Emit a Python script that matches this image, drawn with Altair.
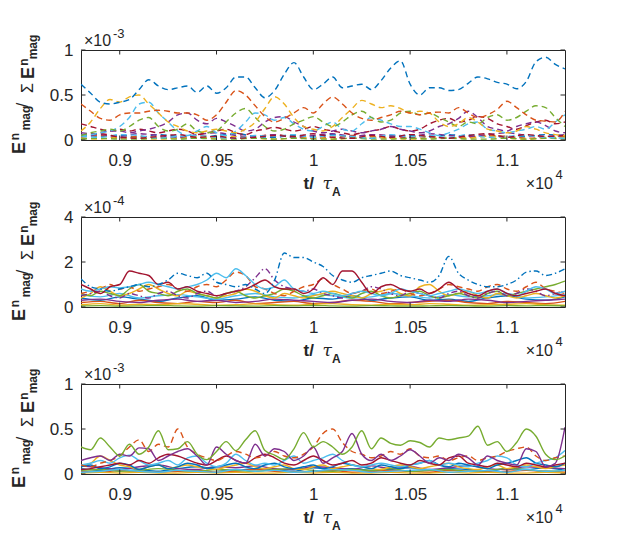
import altair as alt
import pandas as pd

# ---------------- data ----------------
T_MAIN = list(range(8800, 11301, 50))    # t grid for the main curves
T_SMALL = list(range(8800, 11301, 100))  # t grid for the near-zero curves
X_TICKS = [9000, 9500, 10000, 10500, 11000]

BLUE, ORANGE, YELLOW, PURPLE, GREEN, LBLUE, DRED = (
    "#0072BD", "#D95319", "#EDB120", "#7E2F8E", "#77AC30", "#4DBEEE", "#A2142F")
AX = "#262626"
DASH = [6, 4]
DASHDOT = [6, 3, 1.5, 3]
SOLID = None

# panel 1 (x 1e-3)
P1_BLUE = [0.62,0.52,0.42,0.40,0.42,0.45,0.56,0.67,0.60,0.56,
           0.58,0.60,0.53,0.60,0.52,0.58,0.70,0.70,0.58,0.47,
           0.55,0.73,0.86,0.70,0.56,0.62,0.70,0.58,0.60,0.62,
           0.56,0.66,0.80,0.88,0.62,0.50,0.58,0.58,0.55,0.56,
           0.63,0.70,0.68,0.64,0.62,0.57,0.65,0.87,0.92,0.84,0.79]
P1_ORANGE = [0.40,0.32,0.24,0.22,0.28,0.30,0.30,0.32,0.33,0.32,
             0.30,0.30,0.28,0.22,0.28,0.42,0.55,0.50,0.38,0.26,
             0.20,0.24,0.30,0.36,0.30,0.40,0.48,0.40,0.30,0.24,
             0.22,0.25,0.28,0.32,0.30,0.28,0.30,0.31,0.30,0.36,
             0.30,0.25,0.28,0.34,0.43,0.36,0.28,0.22,0.21,0.20,0.32]
P1_YELLOW = [0.10,0.20,0.35,0.45,0.42,0.48,0.50,0.40,0.30,0.20,
             0.15,0.10,0.08,0.10,0.12,0.10,0.08,0.12,0.20,0.35,
             0.48,0.40,0.25,0.15,0.12,0.10,0.15,0.25,0.35,0.44,
             0.40,0.36,0.38,0.35,0.30,0.32,0.30,0.20,0.15,0.18,
             0.25,0.20,0.12,0.10,0.08,0.10,0.15,0.12,0.08,0.06,0.05]
P1_GREEN = [0.05,0.08,0.10,0.12,0.10,0.15,0.22,0.25,0.15,0.10,
            0.12,0.18,0.10,0.08,0.10,0.20,0.30,0.35,0.25,0.15,
            0.10,0.12,0.18,0.22,0.26,0.20,0.15,0.20,0.28,0.32,
            0.25,0.20,0.22,0.30,0.32,0.28,0.30,0.25,0.20,0.15,
            0.20,0.18,0.25,0.28,0.22,0.25,0.32,0.38,0.36,0.25,0.15]
P1_LBLUE = [0.05,0.06,0.08,0.10,0.15,0.25,0.40,0.42,0.30,0.20,
            0.10,0.05,0.10,0.15,0.08,0.05,0.10,0.20,0.30,0.28,
            0.22,0.25,0.18,0.12,0.10,0.15,0.20,0.12,0.10,0.18,
            0.25,0.22,0.18,0.15,0.15,0.12,0.08,0.05,0.08,0.12,
            0.18,0.20,0.12,0.10,0.08,0.10,0.12,0.15,0.12,0.20,0.28]
P1_PURPLE = [0.06,0.05,0.08,0.10,0.10,0.08,0.10,0.12,0.15,0.20,
             0.28,0.30,0.22,0.18,0.24,0.20,0.15,0.10,0.12,0.20,
             0.25,0.26,0.20,0.15,0.10,0.08,0.10,0.12,0.10,0.08,
             0.10,0.12,0.15,0.12,0.10,0.08,0.10,0.15,0.18,0.24,
             0.32,0.25,0.15,0.12,0.10,0.15,0.18,0.20,0.16,0.10,0.08]
P1_DRED = [0.18,0.15,0.12,0.10,0.12,0.10,0.12,0.10,0.08,0.10,
           0.12,0.10,0.06,0.08,0.10,0.12,0.08,0.06,0.10,0.12,
           0.14,0.12,0.10,0.12,0.15,0.12,0.10,0.08,0.06,0.08,
           0.10,0.12,0.15,0.12,0.10,0.12,0.18,0.22,0.24,0.20,
           0.22,0.26,0.24,0.18,0.15,0.12,0.16,0.20,0.22,0.18,0.20]
P1_SMALL = [
    [0.06,0.04,0.05,0.03,0.06,0.04,0.02,0.05,0.07,0.04,0.03,0.05,0.04,0.06,0.03,0.02,0.04,0.05,0.03,0.06,0.04,0.05,0.03,0.04,0.06,0.05],
    [0.03,0.05,0.02,0.04,0.03,0.02,0.05,0.03,0.02,0.04,0.06,0.03,0.02,0.03,0.05,0.04,0.02,0.03,0.04,0.02,0.03,0.05,0.04,0.02,0.03,0.04],
    [0.02,0.01,0.03,0.02,0.01,0.02,0.03,0.02,0.04,0.02,0.01,0.02,0.03,0.01,0.02,0.03,0.02,0.01,0.02,0.03,0.02,0.04,0.02,0.01,0.02,0.03],
    [0.08,0.06,0.04,0.07,0.05,0.03,0.06,0.08,0.05,0.04,0.06,0.03,0.05,0.07,0.04,0.06,0.05,0.03,0.07,0.05,0.04,0.06,0.08,0.05,0.04,0.06],
    [0.01,0.02,0.01,0.01,0.02,0.01,0.02,0.01,0.01,0.02,0.01,0.02,0.01,0.01,0.02,0.01,0.01,0.02,0.01,0.02,0.01,0.01,0.02,0.01,0.02,0.01],
    [0.04,0.03,0.06,0.05,0.02,0.04,0.05,0.03,0.02,0.05,0.04,0.06,0.03,0.05,0.04,0.02,0.06,0.04,0.05,0.03,0.06,0.03,0.04,0.05,0.03,0.02],
    [0.05,0.07,0.03,0.02,0.04,0.06,0.03,0.04,0.02,0.03,0.05,0.04,0.07,0.03,0.02,0.05,0.03,0.06,0.04,0.02,0.05,0.07,0.03,0.06,0.04,0.05],
]

# panel 2 (x 1e-4)
P2_BLUE = [1.25,0.90,0.80,0.70,0.80,0.90,1.00,0.90,1.00,1.20,
           1.50,1.40,1.30,1.50,1.10,1.00,0.90,1.00,0.80,0.60,
           1.20,2.40,2.20,2.20,2.00,1.80,1.40,1.20,1.10,1.30,
           1.40,1.50,1.60,1.40,1.30,1.20,1.10,1.40,2.25,1.50,
           1.20,1.00,0.90,0.90,1.00,1.20,1.55,1.60,1.40,1.50,1.70]
P2_LBLUE = [0.80,0.70,0.80,0.90,0.85,0.90,1.00,1.10,1.00,0.90,
            0.80,0.90,1.00,1.20,1.50,1.30,1.70,1.40,1.00,0.80,
            0.90,1.20,0.80,0.70,0.60,0.70,0.60,0.50,0.60,0.70,
            0.60,0.50,0.60,0.80,0.70,0.60,0.50,0.60,0.70,0.80,
            0.70,0.60,0.70,0.80,0.60,0.50,0.70,0.90,0.80,0.60,0.70]
P2_DRED = [1.00,0.80,0.60,0.90,1.00,1.60,1.50,1.40,1.00,1.10,
           0.80,0.90,0.70,0.60,0.50,0.60,0.70,0.80,1.00,1.20,
           0.90,0.80,0.80,0.60,0.80,1.30,1.00,1.60,1.60,1.10,
           0.60,0.90,1.00,0.80,0.70,0.80,0.60,0.80,1.10,0.80,
           0.60,0.50,0.70,0.80,0.60,0.50,0.60,0.70,0.80,0.60,0.50]
P2_ORANGE = [0.60,0.70,0.80,1.00,0.80,0.90,0.70,0.80,0.90,1.00,
             0.80,0.70,0.90,1.00,0.90,1.20,1.55,1.40,0.90,0.80,
             0.60,0.50,0.70,0.90,1.00,1.25,1.00,0.80,0.60,0.70,
             0.80,0.60,0.70,0.80,0.60,0.50,0.60,0.80,1.00,0.90,
             0.80,0.70,0.90,1.00,0.80,0.70,0.90,1.10,0.80,0.70,0.60]
P2_PURPLE = [0.50,0.60,0.70,0.50,0.40,0.60,0.50,0.40,0.60,0.70,
             0.50,0.40,0.60,0.70,0.50,0.60,0.70,0.90,1.30,1.70,
             1.20,0.90,0.80,0.70,0.80,0.60,0.50,0.40,0.60,0.70,
             0.90,0.80,0.60,0.50,0.70,0.60,0.50,0.40,0.60,0.70,
             0.50,0.40,0.60,0.70,0.50,0.60,0.80,0.70,0.50,0.60,0.70]
P2_GREEN = [0.60,0.50,0.70,0.60,0.50,0.80,1.00,0.70,0.60,0.50,
            0.70,0.80,0.60,0.50,0.40,0.60,0.70,0.50,0.40,0.50,
            0.60,0.80,0.70,0.50,0.40,0.50,0.60,0.50,0.40,0.60,
            0.70,0.50,0.40,0.50,0.60,0.70,0.50,0.40,0.50,0.60,
            0.50,0.40,0.60,0.70,0.50,0.60,0.70,0.80,0.90,1.00,1.15]
P2_YELLOW = [0.40,0.60,0.90,0.70,0.50,0.60,0.80,1.00,0.80,0.60,
             0.50,0.70,0.60,0.50,0.40,0.50,0.60,0.80,0.70,0.50,
             0.40,0.60,0.50,0.40,0.50,0.60,0.70,0.60,0.50,0.40,
             0.60,0.70,0.80,0.60,0.50,0.90,1.00,0.70,0.50,0.60,
             0.70,0.50,0.40,0.60,0.50,0.40,0.50,0.60,0.50,0.40,0.50]
P2_SMALL = [
    [0.40,0.30,0.45,0.35,0.25,0.40,0.50,0.30,0.35,0.45,0.30,0.25,0.40,0.35,0.50,0.30,0.40,0.45,0.30,0.35,0.25,0.40,0.50,0.35,0.30,0.45],
    [0.20,0.25,0.15,0.30,0.20,0.15,0.25,0.20,0.30,0.15,0.20,0.25,0.15,0.20,0.30,0.25,0.15,0.20,0.25,0.30,0.20,0.15,0.25,0.20,0.15,0.25],
    [0.10,0.15,0.08,0.12,0.10,0.15,0.12,0.08,0.10,0.14,0.10,0.08,0.12,0.15,0.10,0.08,0.12,0.10,0.15,0.12,0.08,0.10,0.12,0.15,0.10,0.08],
    [0.30,0.35,0.25,0.20,0.30,0.35,0.25,0.30,0.20,0.25,0.35,0.30,0.25,0.20,0.30,0.35,0.25,0.20,0.30,0.25,0.35,0.30,0.20,0.25,0.30,0.35],
    [0.05,0.06,0.04,0.05,0.07,0.05,0.04,0.06,0.05,0.04,0.06,0.05,0.07,0.05,0.04,0.06,0.05,0.04,0.05,0.06,0.05,0.04,0.06,0.05,0.07,0.05],
    [0.55,0.45,0.60,0.40,0.50,0.55,0.45,0.35,0.50,0.60,0.45,0.40,0.55,0.50,0.40,0.45,0.60,0.50,0.40,0.55,0.45,0.50,0.60,0.40,0.45,0.55],
]

# panel 3 (x 1e-3)
P3_GREEN = [0.30,0.27,0.40,0.30,0.20,0.33,0.22,0.30,0.48,0.27,
            0.28,0.36,0.22,0.16,0.25,0.36,0.26,0.38,0.48,0.26,
            0.21,0.16,0.28,0.46,0.30,0.36,0.30,0.22,0.30,0.48,
            0.28,0.40,0.34,0.32,0.37,0.35,0.30,0.40,0.38,0.40,
            0.42,0.53,0.32,0.36,0.25,0.35,0.50,0.42,0.22,0.16,0.20]
P3_PURPLE = [0.15,0.18,0.20,0.15,0.22,0.20,0.29,0.28,0.15,0.20,
             0.25,0.28,0.20,0.10,0.30,0.22,0.15,0.12,0.33,0.20,
             0.28,0.25,0.15,0.20,0.30,0.12,0.18,0.25,0.45,0.22,
             0.15,0.22,0.15,0.20,0.27,0.20,0.12,0.18,0.15,0.22,
             0.18,0.10,0.20,0.15,0.12,0.10,0.28,0.25,0.08,0.12,0.52]
P3_ORANGE = [0.10,0.08,0.12,0.15,0.20,0.30,0.38,0.25,0.33,0.30,
             0.50,0.30,0.22,0.18,0.15,0.20,0.25,0.22,0.18,0.20,
             0.25,0.20,0.18,0.22,0.30,0.45,0.50,0.35,0.25,0.22,
             0.18,0.20,0.25,0.22,0.28,0.20,0.18,0.20,0.15,0.18,
             0.20,0.15,0.18,0.20,0.25,0.28,0.30,0.20,0.15,0.18,0.20]
P3_DRED = [0.05,0.06,0.08,0.10,0.12,0.10,0.15,0.12,0.18,0.22,
           0.20,0.16,0.12,0.10,0.15,0.20,0.15,0.12,0.18,0.22,
           0.18,0.12,0.10,0.15,0.20,0.15,0.10,0.12,0.15,0.10,
           0.12,0.18,0.15,0.12,0.10,0.15,0.12,0.10,0.18,0.20,
           0.12,0.10,0.08,0.12,0.10,0.08,0.12,0.10,0.08,0.10,0.12]
P3_LBLUE = [0.10,0.12,0.15,0.12,0.18,0.21,0.15,0.10,0.12,0.15,
            0.10,0.18,0.20,0.12,0.08,0.12,0.22,0.15,0.10,0.12,
            0.10,0.15,0.20,0.12,0.15,0.18,0.22,0.15,0.10,0.08,
            0.10,0.12,0.10,0.08,0.10,0.12,0.15,0.10,0.12,0.10,
            0.08,0.12,0.15,0.20,0.18,0.10,0.08,0.12,0.15,0.18,0.26]
P3_BLUE = [0.08,0.10,0.06,0.08,0.12,0.10,0.05,0.08,0.10,0.06,
           0.08,0.12,0.10,0.06,0.08,0.10,0.12,0.08,0.06,0.10,
           0.12,0.08,0.06,0.08,0.10,0.06,0.08,0.12,0.10,0.08,
           0.06,0.10,0.08,0.06,0.10,0.12,0.15,0.10,0.08,0.12,
           0.10,0.08,0.06,0.10,0.12,0.15,0.18,0.12,0.10,0.08,0.12]
P3_YELLOW = [0.08,0.12,0.20,0.15,0.10,0.08,0.05,0.08,0.10,0.06,
             0.08,0.10,0.08,0.06,0.05,0.08,0.10,0.12,0.08,0.06,
             0.08,0.10,0.06,0.05,0.08,0.10,0.06,0.08,0.10,0.08,
             0.06,0.05,0.08,0.10,0.08,0.06,0.08,0.10,0.12,0.08,
             0.06,0.05,0.08,0.10,0.06,0.08,0.10,0.08,0.06,0.08,0.10]
P3_SMALL = [
    [0.06,0.04,0.07,0.05,0.03,0.06,0.08,0.05,0.04,0.06,0.05,0.03,0.07,0.05,0.06,0.04,0.05,0.07,0.04,0.06,0.05,0.03,0.06,0.05,0.07,0.04],
    [0.03,0.02,0.04,0.03,0.02,0.03,0.04,0.02,0.03,0.05,0.03,0.02,0.03,0.04,0.02,0.03,0.04,0.03,0.02,0.04,0.03,0.02,0.03,0.04,0.03,0.02],
    [0.01,0.02,0.01,0.02,0.01,0.01,0.02,0.01,0.02,0.01,0.01,0.02,0.01,0.02,0.01,0.01,0.02,0.01,0.01,0.02,0.01,0.02,0.01,0.01,0.02,0.01],
    [0.09,0.07,0.05,0.08,0.10,0.06,0.05,0.08,0.07,0.09,0.06,0.05,0.08,0.07,0.05,0.09,0.06,0.08,0.05,0.07,0.09,0.06,0.05,0.08,0.07,0.06],
    [0.04,0.05,0.03,0.04,0.06,0.04,0.03,0.05,0.04,0.03,0.05,0.06,0.04,0.03,0.05,0.04,0.06,0.03,0.04,0.05,0.03,0.04,0.06,0.05,0.03,0.04],
    [0.02,0.03,0.05,0.03,0.02,0.04,0.03,0.02,0.05,0.03,0.04,0.02,0.03,0.05,0.04,0.02,0.03,0.04,0.05,0.02,0.03,0.04,0.02,0.05,0.03,0.04],
]

SMALL_COLORS = [BLUE, ORANGE, YELLOW, PURPLE, GREEN, LBLUE, DRED]

P1_MAIN = [(P1_DRED, DRED, DASH), (P1_PURPLE, PURPLE, DASH), (P1_LBLUE, LBLUE, DASH),
           (P1_GREEN, GREEN, DASH), (P1_YELLOW, YELLOW, DASH), (P1_ORANGE, ORANGE, DASH),
           (P1_BLUE, BLUE, DASH)]
P2_MAIN = [(P2_YELLOW, YELLOW, SOLID), (P2_GREEN, GREEN, SOLID), (P2_PURPLE, PURPLE, DASHDOT),
           (P2_ORANGE, ORANGE, DASH), (P2_LBLUE, LBLUE, SOLID), (P2_DRED, DRED, SOLID),
           (P2_BLUE, BLUE, DASHDOT)]
P3_MAIN = [(P3_YELLOW, YELLOW, SOLID), (P3_BLUE, BLUE, SOLID), (P3_LBLUE, LBLUE, SOLID),
           (P3_DRED, DRED, SOLID), (P3_ORANGE, ORANGE, DASH), (P3_PURPLE, PURPLE, SOLID),
           (P3_GREEN, GREEN, SOLID)]

# ---------------- layout ----------------
W, H = 484, 90
FONT = "Liberation Sans"
ONE = pd.DataFrame({"k": [0]})


def txt(s, x, y, size, weight="normal", style="normal", angle=0, align="left", font=FONT):
    return alt.Chart(ONE).mark_text(
        text=s, fontSize=size, fontWeight=weight, fontStyle=style, angle=angle,
        align=align, baseline="alphabetic", font=font, color=AX
    ).encode(x=alt.value(x), y=alt.value(y))


def panel(main, small, small_dash, ymax, yticks, exp_txt):
    xaxis = alt.Axis(values=X_TICKS, labelExpr="format(datum.value/10000, '.2~f')",
                     title=None, grid=False, domain=False, ticks=False, tickSize=0,
                     labelPadding=12, labelFontSize=17, labelFont=FONT, labelColor=AX,
                     labelOverlap=False, labelFlush=False)
    yaxis = alt.Axis(values=yticks, format="~g", title=None, grid=False, domain=False,
                     ticks=False, tickSize=0, labelPadding=8, labelFontSize=17,
                     labelFont=FONT, labelColor=AX, labelOverlap=False, labelFlush=False)
    xenc = alt.X("t:Q", scale=alt.Scale(domain=[8800, 11300], nice=False, zero=False), axis=xaxis)
    yenc = alt.Y("v:Q", scale=alt.Scale(domain=[0, ymax], nice=False, zero=True), axis=yaxis)

    layers = []
    series = [(v, SMALL_COLORS[i % 7], small_dash, T_SMALL) for i, v in enumerate(small)]
    series += [(v, c, d, T_MAIN) for v, c, d in main]
    for vals, color, dash, times in series:
        df = pd.DataFrame({"t": times[:len(vals)], "v": vals})
        kw = dict(color=color, strokeWidth=1.4, clip=True, interpolate="monotone")
        if dash:
            kw["strokeDash"] = dash
        layers.append(alt.Chart(df).mark_line(**kw).encode(x=xenc, y=yenc))

    xt = pd.DataFrame({"t": X_TICKS})
    yt = pd.DataFrame({"v": yticks})
    rule = dict(color=AX, strokeWidth=1)
    layers += [
        alt.Chart(xt).mark_rule(**rule).encode(x=xenc, y=alt.value(H), y2=alt.value(H - 4.5)),
        alt.Chart(xt).mark_rule(**rule).encode(x=xenc, y=alt.value(0), y2=alt.value(4.5)),
        alt.Chart(yt).mark_rule(**rule).encode(y=yenc, x=alt.value(0), x2=alt.value(4.5)),
        alt.Chart(yt).mark_rule(**rule).encode(y=yenc, x=alt.value(W), x2=alt.value(W - 4.5)),
    ]

    # y title: E^n_mag / Σ E^n_mag (rotated)
    layers += [
        txt("E", -56, H + 8, 18, "bold", angle=270, align="center"),
        txt("n", -62.5, H - 3.5, 12, "bold", angle=270, align="center"),
        txt("mag", -51, H - 22, 12, "bold", angle=270, align="center"),
        txt("/", -53, H - 35, 16, angle=270, align="center"),
        txt("Σ", -48, H - 52, 16, angle=270, align="center"),
        txt("E", -47, H - 67, 18, "bold", angle=270, align="center"),
        txt("n", -53.5, H - 78, 12, "bold", angle=270, align="center"),
        txt("mag", -44, H - 93, 12, "bold", angle=270, align="center"),
    ]
    # x title: t/ τ_A
    layers += [
        txt("t/", 222.5, H + 49, 17, "bold"),
        txt("τ", 241.5, H + 49, 17, style="italic", font="DejaVu Serif"),
        txt("A", 251, H + 56, 12, "bold"),
    ]
    # exponent annotations
    layers += [
        txt("×10", 472, H + 49, 16, align="right"),
        txt("4", 474.5, H + 39, 13),
        txt("×10", 3, -4, 16),
        txt(exp_txt, 32, -12, 13),
    ]
    return alt.layer(*layers).properties(width=W, height=H)


p1 = panel(P1_MAIN, P1_SMALL, DASH, 1, [0, 0.5, 1], "-3")
p2 = panel(P2_MAIN, P2_SMALL, SOLID, 4, [0, 2, 4], "-4")
p3 = panel(P3_MAIN, P3_SMALL, SOLID, 1, [0, 0.5, 1], "-3")

chart = alt.vconcat(p1, p2, p3, spacing=77, bounds="flush").properties(
    padding={"left": 0, "top": 19, "right": 5, "bottom": 5}
).configure_view(stroke=AX, strokeWidth=1)

chart.save("out.html", embed_options={"renderer": "svg", "actions": False})
